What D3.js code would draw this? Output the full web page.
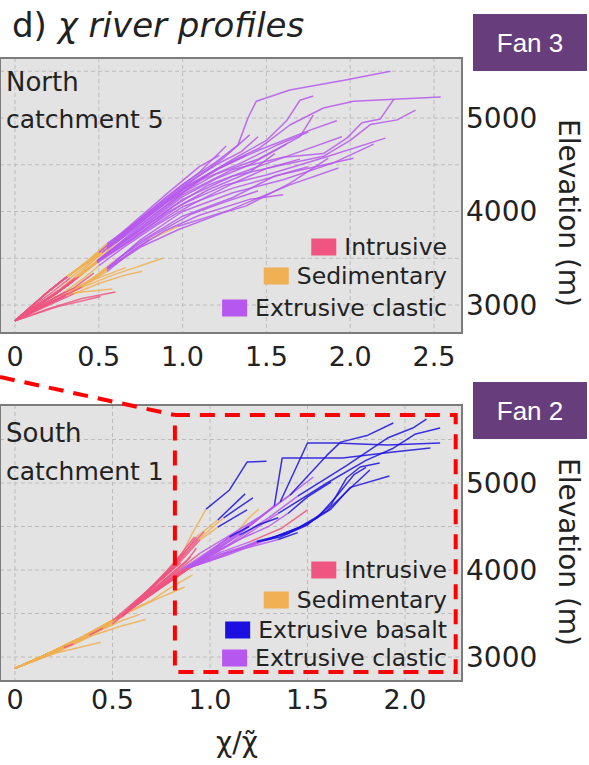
<!DOCTYPE html>
<html>
<head>
<meta charset="utf-8">
<script src="https://cdn.jsdelivr.net/npm/d3@7"></script>
<style>
  body { margin: 0; background: #fff; }
  svg { display: block; font-family: "DejaVu Sans", sans-serif; }
</style>
</head>
<body>
<svg id="chart" width="589" height="765"></svg>
<script>
// lithology codes: I intrusive, S sedimentary, B extrusive basalt, C extrusive clastic
const lithColors = { I: "#ef5580", S: "#f0b053", B: "#1b10df", C: "#b657ef" };

const northLegend = [["I", "Intrusive"], ["S", "Sedimentary"], ["C", "Extrusive clastic"]];
const southLegend = [["I", "Intrusive"], ["S", "Sedimentary"], ["B", "Extrusive basalt"], ["C", "Extrusive clastic"]];

const northXTicks = [0, 0.5, 1.0, 1.5, 2.0, 2.5];
const southXTicks = [0, 0.5, 1.0, 1.5, 2.0];
const yTicks = [3000, 4000, 5000];
const yGrid = [3000, 3500, 4000, 4500, 5000, 5500];

// each point: [chi/chi~, elevation (m), lithology of the segment that starts here]
const northProfiles = [
  [[0,2830,"I"],[0.1,2990,"I"],[0.21,3160,"I"],[0.31,3300,"S"],[0.43,3450,"S"],[0.55,3620,"C"],[0.75,3930,"C"],[1.0,4290,"C"],[1.2,4530,"C"],[1.33,4710,"C"],[1.39,5000,"C"],[1.44,5180,"C"],[1.64,5300,"C"],[1.98,5410,"C"],[2.24,5500,"C"]],
  [[0,2830,"I"],[0.1,2990,"I"],[0.21,3160,"I"],[0.31,3300,"S"],[0.43,3450,"S"],[0.55,3610,"C"],[0.75,3900,"C"],[1.0,4250,"C"],[1.25,4500,"C"],[1.46,4680,"C"],[1.64,4925,"C"],[1.84,5107,"C"],[2.02,5180,"C"],[2.26,5200,"C"],[2.54,5225,"C"]],
  [[0,2830,"I"],[0.12,2980,"I"],[0.25,3130,"I"],[0.35,3260,"S"],[0.49,3470,"C"],[0.75,3830,"C"],[1.0,4180,"C"],[1.3,4450,"C"],[1.6,4580,"C"],[1.84,4620,"C"],[1.98,4785,"C"],[2.07,4950,"C"],[2.18,4990,"C"],[2.26,5200,"C"]],
  [[0,2830,"I"],[0.12,2980,"I"],[0.25,3130,"I"],[0.35,3260,"S"],[0.49,3470,"C"],[0.75,3800,"C"],[1.0,4130,"C"],[1.3,4380,"C"],[1.6,4500,"C"],[1.84,4590,"C"],[2.0,4760,"C"],[2.12,4930,"C"],[2.28,4980,"C"],[2.39,5085,"C"]],
  [[0,2830,"I"],[0.12,2980,"I"],[0.25,3130,"I"],[0.35,3260,"S"],[0.49,3460,"C"],[0.75,3780,"C"],[1.0,4080,"C"],[1.25,4280,"C"],[1.5,4390,"C"],[1.85,4580,"C"],[2.21,4785,"C"]],
  [[0,2830,"I"],[0.15,2970,"I"],[0.3,3100,"S"],[0.45,3260,"S"],[0.55,3390,"C"],[0.75,3700,"C"],[1.0,4000,"C"],[1.3,4200,"C"],[1.6,4340,"C"],[1.9,4520,"C"],[2.14,4720,"C"]],
  [[0,2830,"I"],[0.15,2970,"I"],[0.3,3100,"S"],[0.45,3260,"S"],[0.55,3390,"C"],[0.8,3700,"S"],[0.97,3840,"C"],[1.28,4015,"C"],[1.64,4285,"C"],[1.93,4465,"C"]],
  [[0,2830,"I"],[0.1,2990,"I"],[0.21,3160,"I"],[0.31,3300,"S"],[0.43,3450,"S"],[0.55,3620,"C"],[0.75,3880,"C"],[1.0,4230,"C"],[1.3,4560,"C"],[1.5,4760,"C"],[1.62,4970,"C"],[1.70,5190,"C"],[1.78,5235,"C"]],
  [[0,2830,"I"],[0.1,2990,"I"],[0.21,3160,"I"],[0.31,3300,"S"],[0.43,3450,"S"],[0.55,3600,"C"],[0.75,3860,"C"],[1.0,4200,"C"],[1.2,4450,"C"],[1.46,4660,"C"],[1.76,4870,"C"],[1.92,4970,"C"]],
  [[0,2830,"I"],[0.12,2980,"I"],[0.25,3130,"I"],[0.35,3260,"S"],[0.49,3470,"C"],[0.75,3850,"C"],[1.0,4200,"C"],[1.2,4400,"C"],[1.45,4560,"C"],[1.7,4800,"C"],[1.78,5030,"C"]],
  [[0,2830,"I"],[0.15,2970,"I"],[0.3,3100,"S"],[0.45,3260,"S"],[0.55,3380,"C"],[0.75,3620,"C"],[0.98,3810,"C"],[1.24,3985,"C"],[1.38,4060,"C"],[1.64,4300,"C"],[1.87,4570,"C"]],
  [[0,2830,"I"],[0.12,2980,"I"],[0.25,3130,"I"],[0.35,3260,"S"],[0.49,3460,"C"],[0.75,3760,"C"],[1.0,4050,"C"],[1.3,4250,"C"],[1.6,4400,"C"],[2.02,4570,"C"]],
  [[0,2830,"I"],[0.15,2970,"I"],[0.3,3100,"S"],[0.45,3260,"S"],[0.55,3400,"C"],[0.75,3680,"C"],[1.0,3950,"C"],[1.3,4150,"C"],[1.55,4380,"C"],[1.75,4480,"C"]],
  [[0,2830,"I"],[0.1,2990,"I"],[0.21,3160,"I"],[0.31,3300,"S"],[0.43,3460,"S"],[0.55,3640,"C"],[0.75,3920,"C"],[1.0,4270,"C"],[1.2,4500,"C"],[1.35,4640,"C"],[1.45,4800,"C"]],
  [[0,2830,"I"],[0.12,2980,"I"],[0.25,3130,"I"],[0.35,3260,"S"],[0.49,3470,"C"],[0.75,3820,"C"],[1.0,4160,"C"],[1.2,4350,"C"],[1.4,4500,"C"],[1.62,4720,"C"]],
  [[0,2830,"I"],[0.1,2990,"I"],[0.21,3160,"I"],[0.31,3300,"S"],[0.43,3470,"S"],[0.55,3660,"C"],[0.7,3850,"C"],[0.9,4150,"C"],[1.1,4420,"C"],[1.26,4700,"C"]],
  [[0,2830,"I"],[0.12,2980,"I"],[0.25,3130,"I"],[0.35,3260,"S"],[0.49,3450,"C"],[0.7,3700,"C"],[0.9,3980,"C"],[1.15,4230,"C"],[1.4,4420,"C"],[1.55,4620,"C"]],
  [[0,2830,"I"],[0.15,2970,"I"],[0.3,3100,"S"],[0.45,3250,"S"],[0.55,3360,"C"],[0.7,3580,"C"],[0.9,3800,"C"],[1.1,3960,"C"],[1.4,4130,"C"],[1.6,4180,"C"]],
  [[0,2830,"I"],[0.11,2985,"I"],[0.23,3150,"I"],[0.33,3290,"S"],[0.5,3520,"S"],[0.6,3700,"C"],[0.8,3980,"C"],[1.05,4320,"C"],[1.25,4580,"C"],[1.4,4820,"C"]],
  [[0,2830,"I"],[0.13,2990,"I"],[0.26,3160,"S"],[0.4,3360,"S"],[0.52,3560,"C"],[0.7,3820,"C"],[0.9,4090,"C"],[1.1,4330,"C"],[1.35,4520,"C"],[1.55,4700,"C"],[1.75,4850,"C"]],
  [[0,2830,"I"],[0.14,2975,"I"],[0.28,3120,"S"],[0.42,3300,"S"],[0.5,3420,"C"],[0.65,3620,"C"],[0.85,3860,"C"],[1.05,4070,"C"],[1.3,4300,"C"],[1.5,4460,"C"],[1.7,4560,"C"]],
  [[0,2830,"I"],[0.12,2980,"I"],[0.25,3140,"I"],[0.36,3290,"S"],[0.47,3440,"S"],[0.6,3660,"C"],[0.82,3990,"C"],[1.02,4260,"C"],[1.22,4460,"C"],[1.38,4600,"C"]],
  [[0,2830,"I"],[0.13,2980,"I"],[0.26,3140,"I"],[0.38,3300,"S"],[0.5,3480,"C"],[0.7,3740,"C"],[0.95,4060,"C"],[1.15,4280,"C"],[1.45,4480,"C"],[1.7,4640,"C"],[1.95,4800,"C"]],
  [[0,2830,"I"],[0.16,2975,"I"],[0.32,3130,"S"],[0.48,3310,"S"],[0.6,3480,"C"],[0.8,3720,"C"],[1.05,3970,"C"],[1.25,4100,"C"],[1.45,4220,"C"]],
  [[0,2830,"I"],[0.1,2990,"I"],[0.2,3150,"I"],[0.3,3290,"S"],[0.4,3420,"S"],[0.5,3560,"C"],[0.7,3870,"C"],[0.9,4180,"C"],[1.1,4480,"C"],[1.22,4600,"C"]],
  [[0,2830,"I"],[0.12,2950,"I"],[0.28,3090,"I"],[0.4,3190,"S"],[0.6,3330,"S"],[0.75,3420,"S"],[0.88,3500,"S"]],
  [[0,2830,"I"],[0.18,2980,"I"],[0.35,3120,"S"],[0.5,3230,"S"],[0.66,3320,"S"],[0.76,3360,"S"]],
  [[0,2830,"I"],[0.2,2960,"I"],[0.4,3070,"I"],[0.6,3140,"I"]],
  [[0,2830,"I"],[0.25,2980,"I"],[0.51,3090,"I"]],
  [[0,2830,"I"],[0.15,2990,"I"],[0.3,3140,"S"],[0.5,3290,"S"],[0.66,3400,"S"]],
  [[0,2830,"I"],[0.2,3040,"I"],[0.35,3180,"I"],[0.47,3340,"I"]],
  [[0,2830,"I"],[0.1,2960,"I"],[0.2,3080,"S"],[0.4,3140,"S"],[0.58,3170,"S"]]
];

const southProfiles = [
  [[0,2870,"S"],[0.18,3050,"S"],[0.35,3235,"S"],[0.55,3480,"I"],[0.65,3700,"I"],[0.8,4020,"I"],[0.86,4200,"S"],[0.91,4425,"S"],[0.98,4700,"B"],[1.1,4920,"B"],[1.19,5240,"B"],[1.29,5250,"B"]],
  [[0,2870,"S"],[0.18,3050,"S"],[0.35,3235,"S"],[0.55,3480,"I"],[0.65,3690,"I"],[0.8,3990,"I"],[0.93,4380,"S"],[1.04,4575,"B"],[1.18,4875,"B"]],
  [[0,2870,"S"],[0.18,3050,"S"],[0.35,3235,"S"],[0.55,3480,"I"],[0.66,3700,"I"],[0.82,4050,"I"],[0.94,4350,"S"],[1.07,4600,"B"],[1.22,4830,"B"]],
  [[0,2870,"S"],[0.18,3050,"S"],[0.35,3235,"S"],[0.55,3480,"I"],[0.68,3720,"I"],[0.85,4000,"C"],[1.05,4250,"C"],[1.2,4500,"C"],[1.33,4740,"B"],[1.37,5287,"B"],[1.68,5287,"B"],[1.81,5322,"B"],[1.94,5356,"B"],[2.13,5402,"B"]],
  [[0,2870,"S"],[0.18,3050,"S"],[0.35,3235,"S"],[0.55,3480,"I"],[0.68,3700,"I"],[0.87,4030,"C"],[1.05,4300,"C"],[1.2,4500,"C"],[1.36,4782,"B"],[1.5,5460,"B"],[1.65,5460,"B"],[1.77,5448,"B"],[1.91,5437,"B"],[2.18,5460,"B"]],
  [[0,2870,"S"],[0.18,3050,"S"],[0.35,3235,"S"],[0.55,3480,"I"],[0.7,3750,"I"],[0.9,4040,"C"],[1.1,4350,"C"],[1.25,4600,"C"],[1.41,4860,"B"],[1.6,5320,"B"],[1.67,5470,"B"],[1.81,5550,"B"],[1.94,5690,"B"]],
  [[0,2870,"S"],[0.18,3050,"S"],[0.35,3235,"S"],[0.55,3480,"I"],[0.7,3740,"I"],[0.9,4030,"C"],[1.1,4300,"C"],[1.3,4600,"C"],[1.45,4850,"B"],[1.7,5200,"B"],[1.91,5517,"B"],[2.04,5632,"B"],[2.11,5735,"B"]],
  [[0,2870,"S"],[0.18,3050,"S"],[0.35,3235,"S"],[0.55,3480,"I"],[0.7,3730,"I"],[0.9,4030,"C"],[1.15,4350,"C"],[1.35,4650,"B"],[1.6,5000,"B"],[1.8,5260,"B"],[1.94,5400,"B"],[2.05,5560,"B"],[2.18,5632,"B"]],
  [[0,2870,"S"],[0.18,3050,"S"],[0.35,3235,"S"],[0.55,3480,"I"],[0.7,3720,"I"],[0.9,4030,"C"],[1.05,4150,"C"],[1.24,4322,"B"],[1.36,4380,"B"],[1.5,4517,"B"],[1.62,4747,"B"],[1.70,5057,"B"],[1.77,5184,"B"],[1.87,5230,"B"]],
  [[0,2870,"S"],[0.18,3050,"S"],[0.35,3235,"S"],[0.55,3480,"I"],[0.7,3720,"I"],[0.9,4030,"C"],[1.1,4200,"C"],[1.24,4330,"B"],[1.4,4420,"B"],[1.55,4600,"B"],[1.65,4850,"B"],[1.74,5100,"B"],[1.80,5180,"B"]],
  [[0,2870,"S"],[0.18,3050,"S"],[0.35,3235,"S"],[0.55,3480,"I"],[0.7,3730,"I"],[0.9,4040,"C"],[1.1,4220,"C"],[1.3,4350,"B"],[1.5,4530,"B"],[1.62,4700,"B"],[1.72,4950,"B"],[1.92,5080,"B"]],
  [[0,2870,"S"],[0.18,3050,"S"],[0.35,3235,"S"],[0.55,3480,"I"],[0.7,3760,"I"],[0.95,4195,"C"],[1.12,4425,"C"],[1.27,4632,"C"],[1.41,4862,"C"],[1.53,5069,"C"]],
  [[0,2870,"S"],[0.18,3050,"S"],[0.35,3235,"S"],[0.55,3480,"I"],[0.7,3740,"I"],[0.92,4080,"C"],[1.15,4350,"C"],[1.3,4500,"C"],[1.4,4650,"B"],[1.5,4840,"B"],[1.62,5011,"B"]],
  [[0,2870,"S"],[0.18,3050,"S"],[0.35,3235,"S"],[0.55,3480,"I"],[0.7,3730,"I"],[0.9,4040,"C"],[1.05,4200,"C"],[1.2,4320,"I"],[1.37,4483,"I"],[1.5,4690,"I"]],
  [[0,2870,"S"],[0.18,3050,"S"],[0.35,3235,"S"],[0.55,3480,"I"],[0.66,3700,"I"],[0.85,4100,"I"],[0.95,4350,"S"],[1.04,4494,"B"],[1.12,4600,"B"],[1.19,4690,"B"]],
  [[0,2870,"S"],[0.18,3050,"S"],[0.35,3235,"S"],[0.55,3480,"I"],[0.7,3720,"I"],[0.9,4040,"C"],[1.05,4180,"C"],[1.2,4260,"C"],[1.35,4350,"B"],[1.45,4430,"B"]],
  [[0,2870,"S"],[0.18,3050,"S"],[0.35,3235,"S"],[0.55,3480,"I"],[0.7,3740,"I"],[0.9,4050,"C"],[1.05,4300,"C"],[1.14,4440,"S"],[1.2,4600,"S"],[1.25,4700,"S"]],
  [[0,2870,"S"],[0.2,3055,"S"],[0.36,3245,"S"],[0.52,3440,"I"],[0.66,3720,"I"],[0.8,4030,"I"],[0.9,4280,"I"],[0.97,4440,"I"]],
  [[0,2870,"S"],[0.2,3050,"S"],[0.37,3250,"S"],[0.56,3500,"I"],[0.7,3800,"I"],[0.83,4120,"I"],[0.92,4380,"I"]],
  [[0,2870,"S"],[0.18,3050,"S"],[0.35,3235,"S"],[0.55,3480,"I"],[0.7,3740,"I"],[0.9,4040,"C"],[1.05,4260,"C"],[1.15,4400,"B"],[1.25,4520,"B"],[1.35,4600,"B"]],
  [[0,2870,"S"],[0.18,3050,"S"],[0.35,3235,"S"],[0.55,3480,"I"],[0.7,3730,"I"],[0.88,4020,"C"],[1.0,4200,"C"],[1.1,4380,"B"],[1.2,4500,"B"]],
  [[0,2870,"S"],[0.18,3050,"S"],[0.35,3235,"S"],[0.55,3480,"I"],[0.7,3730,"I"],[0.9,4030,"C"],[1.1,4180,"C"],[1.28,4340,"B"],[1.45,4480,"B"],[1.6,4680,"B"],[1.7,4900,"B"],[1.82,5150,"B"]],
  [[0,2870,"S"],[0.2,3040,"S"],[0.4,3250,"S"],[0.55,3360,"S"],[0.67,3430,"S"]],
  [[0,2870,"S"],[0.2,3050,"S"],[0.4,3270,"S"],[0.55,3420,"S"],[0.64,3490,"S"]],
  [[0,2870,"S"],[0.2,3040,"S"],[0.44,3170,"S"]],
  [[0,2870,"S"],[0.2,3050,"S"],[0.4,3280,"S"],[0.57,3510,"S"],[0.7,3650,"S"],[0.8,3800,"S"],[0.91,3940,"S"]],
  [[0,2870,"S"],[0.2,3050,"S"],[0.4,3275,"S"],[0.57,3500,"S"],[0.7,3640,"S"],[0.87,3805,"S"]],
  [[0,2870,"S"],[0.15,3010,"S"],[0.25,3110,"I"],[0.3,3150,"S"],[0.5,3380,"I"],[0.75,3850,"I"],[0.88,4100,"I"],[0.93,4250,"I"]],
  [[0,2870,"S"],[0.2,3060,"S"],[0.38,3250,"I"],[0.45,3330,"S"],[0.55,3460,"I"],[0.72,3800,"I"],[0.85,4050,"I"],[0.9,4150,"I"]],
  [[0,2870,"S"],[0.18,3050,"S"],[0.35,3240,"S"],[0.5,3420,"I"],[0.62,3650,"I"],[0.78,3950,"I"],[0.85,4080,"I"]]
];

// red dashed zoom box in the south panel: chi from, chi to, elevation bottom, elevation top
const zoomBox = [0.82, 2.26, 2828, 5781];

const svg = d3.select("#chart");

// title
const title = svg.append("text").attr("x", 12).attr("y", 37)
  .style("font-size", "34px").attr("fill", "#222");
title.append("tspan").text("d) ");
title.append("tspan").style("font-style", "italic").text("χ river profiles");

const panels = [
  {
    id: "north", profiles: northProfiles, legend: northLegend, xTicks: northXTicks,
    frame: { x0: 0, x1: 462, y0: 58, y1: 333 },
    x: d3.scaleLinear().domain([0, 2.5]).range([15, 434]),
    y: d3.scaleLinear().domain([3000, 5000]).range([305, 118]),
    labels: ["North", "catchment 5"], labelY: [91, 128],
    fan: "Fan 3", fanY: 14, legendY: [247, 276, 308], tickY: 356, ylabelY: 213
  },
  {
    id: "south", profiles: southProfiles, legend: southLegend, xTicks: southXTicks,
    frame: { x0: 0, x1: 462, y0: 405, y1: 681 },
    x: d3.scaleLinear().domain([0, 2]).range([15, 405]),
    y: d3.scaleLinear().domain([3000, 5000]).range([657, 483]),
    labels: ["South", "catchment 1"], labelY: [442, 480],
    fan: "Fan 2", fanY: 382, legendY: [570, 600, 630, 658], tickY: 699, ylabelY: 552
  }
];

panels.forEach(p => {
  const f = p.frame;
  const g = svg.append("g").attr("class", p.id);

  svg.append("clipPath").attr("id", "clip-" + p.id)
    .append("rect").attr("x", f.x0).attr("y", f.y0)
    .attr("width", f.x1 - f.x0).attr("height", f.y1 - f.y0);

  g.append("rect").attr("x", f.x0).attr("y", f.y0)
    .attr("width", f.x1 - f.x0).attr("height", f.y1 - f.y0)
    .attr("fill", "#e3e3e3");

  // grid
  const grid = g.append("g").attr("clip-path", `url(#clip-${p.id})`)
    .attr("stroke", "#bcbcbc").attr("stroke-width", 1).attr("stroke-dasharray", "4,3");
  grid.selectAll("line.v").data(p.xTicks).enter().append("line")
    .attr("x1", d => p.x(d)).attr("x2", d => p.x(d))
    .attr("y1", f.y0).attr("y2", f.y1);
  grid.selectAll("line.h").data(yGrid).enter().append("line")
    .attr("y1", d => p.y(d)).attr("y2", d => p.y(d))
    .attr("x1", f.x0).attr("x2", f.x1);

  // profiles, split where lithology changes
  const line = d3.line().x(d => p.x(d[0])).y(d => p.y(d[1]));
  const segs = [];
  p.profiles.forEach(prof => {
    let cur = { lith: prof[0][2], pts: [prof[0]] };
    for (let i = 1; i < prof.length; i++) {
      cur.pts.push(prof[i]);
      if (i < prof.length - 1 && prof[i][2] !== cur.lith) {
        segs.push(cur);
        cur = { lith: prof[i][2], pts: [prof[i]] };
      }
    }
    segs.push(cur);
  });
  const order = { S: 0, I: 1, C: 2, B: 3 };
  segs.sort((a, b) => order[a.lith] - order[b.lith]);
  g.append("g").attr("clip-path", `url(#clip-${p.id})`)
    .selectAll("path").data(segs).enter().append("path")
    .attr("d", d => line(d.pts))
    .attr("fill", "none")
    .attr("stroke", d => lithColors[d.lith])
    .attr("stroke-width", 1.5)
    .attr("stroke-opacity", 0.85)
    .attr("stroke-linejoin", "round");

  // frame
  g.append("rect").attr("x", f.x0).attr("y", f.y0)
    .attr("width", f.x1 - f.x0).attr("height", f.y1 - f.y0)
    .attr("fill", "none").attr("stroke", "#7c7c7c").attr("stroke-width", 2);

  // x tick labels
  g.selectAll("text.xt").data(p.xTicks).enter().append("text")
    .attr("x", d => p.x(d)).attr("y", p.tickY)
    .attr("text-anchor", "middle").attr("dominant-baseline", "central")
    .style("font-size", "27px").attr("fill", "#222")
    .text(d => d === 0 ? "0" : d3.format(".1f")(d));

  // y tick labels (right side)
  g.selectAll("text.yt").data(yTicks).enter().append("text")
    .attr("x", 466).attr("y", d => p.y(d))
    .attr("dominant-baseline", "central")
    .style("font-size", "28px").attr("fill", "#222")
    .text(d => d);

  g.append("text")
    .attr("transform", `translate(568,${p.ylabelY}) rotate(90)`)
    .attr("text-anchor", "middle").attr("dominant-baseline", "central")
    .style("font-size", "28px").attr("fill", "#222")
    .text("Elevation (m)");

  // panel labels
  g.append("text").attr("x", 6).attr("y", p.labelY[0])
    .style("font-size", "26px").attr("fill", "#222").text(p.labels[0]);
  g.append("text").attr("x", 6).attr("y", p.labelY[1])
    .style("font-size", "25px").attr("fill", "#222").text(p.labels[1]);

  // legend
  p.legend.forEach((item, i) => {
    const yc = p.legendY[i];
    const t = g.append("text").attr("x", 447).attr("y", yc)
      .attr("text-anchor", "end").attr("dominant-baseline", "central")
      .style("font-size", "23.5px").attr("fill", "#222").text(item[1]);
    const w = t.node().getComputedTextLength();
    g.append("rect").attr("x", 447 - w - 33).attr("y", yc - 8.5)
      .attr("width", 25).attr("height", 17)
      .attr("fill", lithColors[item[0]]);
  });

  // fan badge
  g.append("rect").attr("x", 473).attr("y", p.fanY)
    .attr("width", 114).attr("height", 57).attr("fill", "#673e7b");
  g.append("text").attr("x", 530).attr("y", p.fanY + 29)
    .attr("text-anchor", "middle").attr("dominant-baseline", "central")
    .style("font-family", "'Liberation Sans', Arial, sans-serif")
    .style("font-size", "26px").attr("fill", "#fff").text(p.fan);
});

// x-axis label
svg.append("text").attr("x", 237).attr("y", 752)
  .attr("text-anchor", "middle")
  .style("font-size", "28px").attr("fill", "#222")
  .text("χ/χ\u0303");

// red dashed zoom box and leader line
const sp = panels[1];
const bx0 = sp.x(zoomBox[0]), bx1 = sp.x(zoomBox[1]);
const by0 = sp.y(zoomBox[3]), by1 = sp.y(zoomBox[2]);
const red = svg.append("g").attr("fill", "none").attr("stroke", "#ff0000")
  .attr("stroke-width", 4).attr("stroke-dasharray", "15,10");
red.append("path").attr("d", `M0,377 L${bx0},${by0}`);
red.append("rect").attr("x", bx0).attr("y", by0)
  .attr("width", bx1 - bx0).attr("height", by1 - by0);
</script>
</body>
</html>
